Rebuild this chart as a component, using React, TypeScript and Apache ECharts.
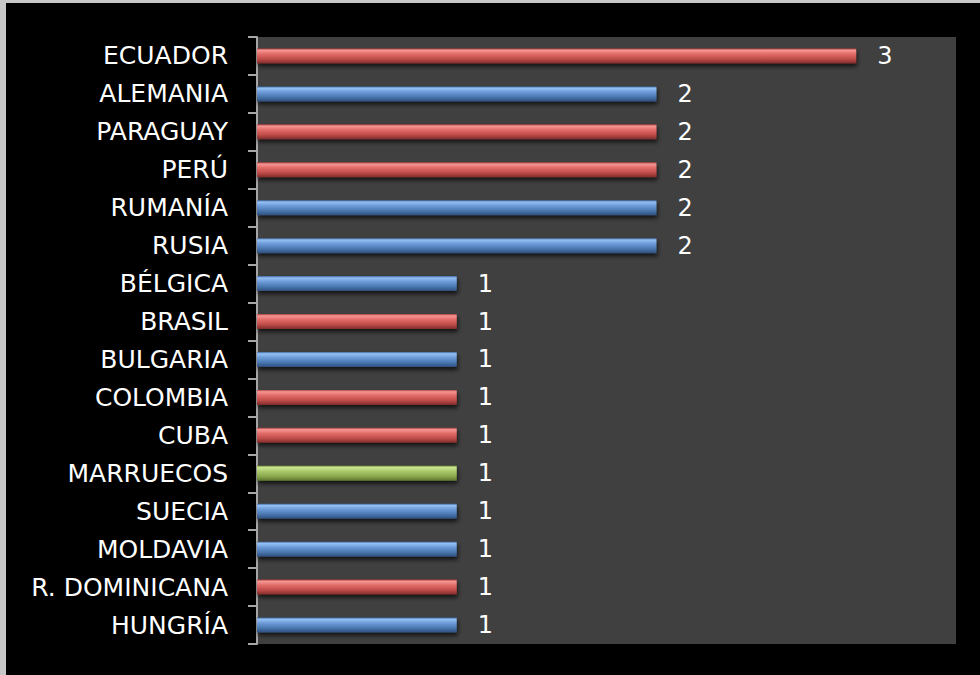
import React, { useEffect, useRef } from "react";
import * as echarts from "echarts";

const countries = [
  "ECUADOR", "ALEMANIA", "PARAGUAY", "PERÚ", "RUMANÍA", "RUSIA", "BÉLGICA", "BRASIL",
  "BULGARIA", "COLOMBIA", "CUBA", "MARRUECOS", "SUECIA", "MOLDAVIA", "R. DOMINICANA", "HUNGRÍA",
];
const counts = [3, 2, 2, 2, 2, 2, 1, 1, 1, 1, 1, 1, 1, 1, 1, 1];
const regions = [
  "america", "europe", "america", "america", "europe", "europe", "europe", "america",
  "europe", "america", "america", "africa", "europe", "europe", "america", "europe",
];

const palette: Record<string, string[]> = {
  america: ["#a8403e", "#f59794", "#e46e6a", "#bf4c49", "#7e2c2a"],
  europe: ["#3f6aa0", "#95c0f4", "#6f9edb", "#4a77b0", "#2f4f7c"],
  africa: ["#7c9a42", "#cce894", "#abcb6e", "#8aa84c", "#5c7430"],
};

function grad(c: string[]) {
  return new echarts.graphic.LinearGradient(0, 0, 0, 1, [
    { offset: 0, color: c[0] },
    { offset: 0.12, color: c[1] },
    { offset: 0.35, color: c[2] },
    { offset: 0.7, color: c[3] },
    { offset: 1, color: c[4] },
  ]);
}

export default function App() {
  const ref = useRef<HTMLDivElement>(null);
  useEffect(() => {
    if (!ref.current) return;
    const chart = echarts.init(ref.current, undefined, { renderer: "svg" });
    const font = "'DejaVu Sans', sans-serif";
    chart.setOption({
      animation: false,
      backgroundColor: "#000000",
      graphic: [
        { type: "rect", left: 0, top: 0, shape: { width: 980, height: 3 }, style: { fill: "#c8c8c8" } },
        { type: "rect", left: 0, top: 0, shape: { width: 6, height: 675 }, style: { fill: "#c8c8c8" } },
      ],
      grid: {
        left: 257,
        top: 37,
        right: 24,
        bottom: 31,
        show: true,
        backgroundColor: "#404040",
        borderWidth: 0,
      },
      xAxis: {
        type: "value",
        min: 0,
        max: 3.5,
        show: false,
      },
      yAxis: {
        type: "category",
        data: countries,
        inverse: true,
        axisLine: { show: true, lineStyle: { color: "#a6a6a6", width: 2 } },
        axisTick: { show: true, length: 9, lineStyle: { color: "#a6a6a6", width: 2 } },
        axisLabel: { color: "#ffffff", fontSize: 25, fontFamily: font, margin: 29 },
        splitLine: { show: false },
      },
      series: [
        {
          type: "bar",
          barWidth: 15,
          data: counts.map((v, i) => ({
            value: v,
            itemStyle: {
              color: grad(palette[regions[i]]),
              shadowColor: "rgba(0,0,0,0.7)",
              shadowBlur: 4,
              shadowOffsetY: 3,
              shadowOffsetX: 1,
            },
          })),
          label: {
            show: true,
            position: "right",
            distance: 21,
            color: "#ffffff",
            fontSize: 24,
            fontFamily: font,
          },
        },
      ],
    });
    return () => chart.dispose();
  }, []);
  return (
    <div
      ref={ref}
      style={{ position: "fixed", left: 0, top: 0, width: 980, height: 675 }}
    />
  );
}
